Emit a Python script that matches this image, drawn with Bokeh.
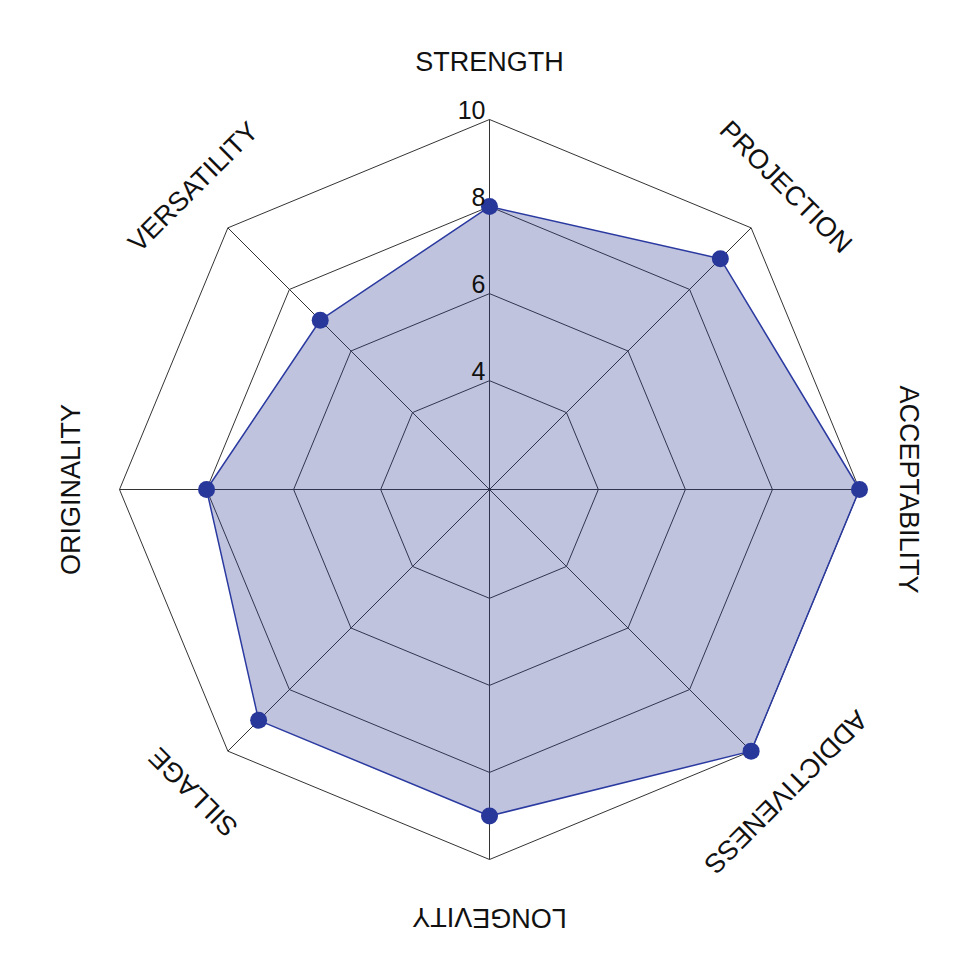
import math
from bokeh.plotting import figure
from bokeh.models import Range1d
from bokeh.core.properties import value
from bokeh.embed import file_html
from bokeh.resources import INLINE

# ---- data ----
categories = ["STRENGTH", "PROJECTION", "ACCEPTABILITY", "ADDICTIVENESS",
              "LONGEVITY", "SILLAGE", "ORIGINALITY", "VERSATILITY"]
scores = [8, 9, 10, 10, 9, 9, 8, 7]
ring_values = [4, 6, 8, 10]
tick_labels = ["4", "6", "8", "10"]

# ---- scale / layout ----
R_MIN = 1.5
R_MAX = 10
RADIUS = 370
LABEL_RX = 419
LABEL_RY = 428

W, H = 970, 970
CX, CY = 489, 489  # center in canvas pixels

p = figure(width=W, height=H,
           x_range=Range1d(-CX, W - CX), y_range=Range1d(-(H - CY), CY),
           output_backend="svg", toolbar_location=None, min_border=0)
p.axis.visible = False
p.grid.visible = False
p.outline_line_color = None
p.background_fill_color = "white"
p.border_fill_color = "white"


def rad(v):
    return (v - R_MIN) / (R_MAX - R_MIN) * RADIUS


n = len(categories)
thetas = [2 * math.pi * i / n for i in range(n)]

# rings
ring_xs, ring_ys = [], []
for v in ring_values:
    r = rad(v)
    ring_xs.append([r * math.sin(t) for t in thetas + [thetas[0]]])
    ring_ys.append([r * math.cos(t) for t in thetas + [thetas[0]]])
p.multi_line(ring_xs, ring_ys, line_color="#333333", line_width=1.0)

# spokes
rmax = rad(R_MAX)
p.segment(x0=[0] * n, y0=[0] * n,
          x1=[rmax * math.sin(t) for t in thetas],
          y1=[rmax * math.cos(t) for t in thetas],
          line_color="#333333", line_width=1.0)

# data polygon
dx = [rad(v) * math.sin(t) for v, t in zip(scores, thetas)]
dy = [rad(v) * math.cos(t) for v, t in zip(scores, thetas)]
p.patch(dx, dy, fill_color="#2B3990", fill_alpha=0.3,
        line_color="#2B3AA0", line_width=1.5)
p.scatter(dx, dy, size=17, fill_color="#28379A", line_color=None)

# tick labels
p.text(x=[-4] * len(ring_values), y=[rad(v) for v in ring_values],
       text=tick_labels, text_align="right", text_baseline="middle",
       y_offset=-10,
       text_font=value("Liberation Sans"), text_font_size="25px",
       text_color="#111111")

# category labels
p.text(x=[LABEL_RX * math.sin(t) for t in thetas],
       y=[LABEL_RY * math.cos(t) for t in thetas],
       text=categories, angle=[-t for t in thetas],
       text_align="center", text_baseline="middle",
       text_font=value("Liberation Sans"), text_font_size="27px",
       text_color="#111111")

open("out.html", "w").write(file_html(p, INLINE))
